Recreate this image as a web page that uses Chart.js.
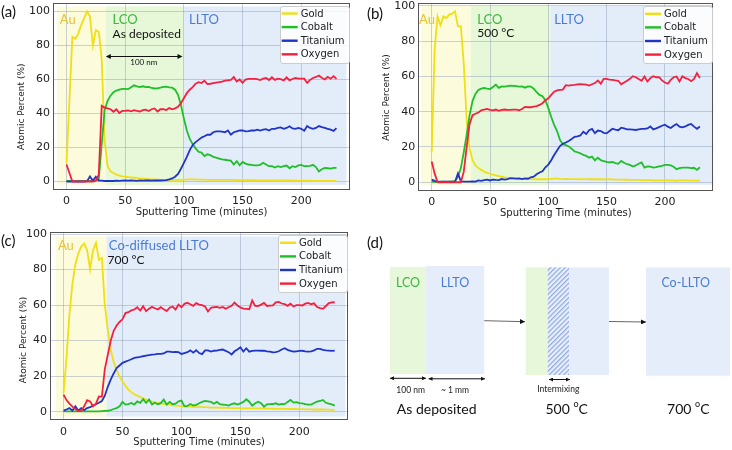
<!DOCTYPE html>
<html><head><meta charset="utf-8">
<script src="https://cdn.jsdelivr.net/npm/chart.js@4.4.1/dist/chart.umd.min.js"></script>
<style>
body{margin:0;background:#fff;}
#wrap{position:relative;width:732px;height:450px;overflow:hidden;background:#fff;}
canvas{position:absolute;}
.pl{position:absolute;font-family:Lato,"DejaVu Sans",sans-serif;font-size:15px;line-height:18px;color:#111;}
</style></head><body>
<div id="wrap">
<canvas id="ca" width="370" height="225" style="left:0;top:0"></canvas>
<canvas id="cb" width="367" height="225" style="left:365px;top:0"></canvas>
<canvas id="cc" width="370" height="225" style="left:0;top:225px"></canvas>
<svg width="732" height="450" style="position:absolute;left:0;top:0" font-family="Lato, 'DejaVu Sans', sans-serif">
<defs>
<pattern id="hatch" patternUnits="userSpaceOnUse" width="3.4" height="3.4" patternTransform="rotate(45)"><rect width="3.4" height="3.4" fill="#e8effb"/><line x1="0.6" y1="0" x2="0.6" y2="3.4" stroke="#86a3e0" stroke-width="1.1"/></pattern>
<marker id="ah" viewBox="0 0 10 10" refX="10" refY="5" markerWidth="5" markerHeight="5" orient="auto-start-reverse"><path d="M0,0 L10,5 L0,10 z" fill="#111"/></marker>
<marker id="ah2" viewBox="0 0 10 10" refX="10" refY="5" markerWidth="4" markerHeight="4" orient="auto-start-reverse"><path d="M0,0 L10,5 L0,10 z" fill="#111"/></marker>
</defs>
<rect x="390" y="267" width="36" height="107" fill="#e6f7da"/>
<rect x="426" y="266" width="58.3" height="108" fill="#e5edfb"/>
<text x="408" y="282.5" text-anchor="middle" dominant-baseline="central" font-size="12.5" fill="#3fb63f">LCO</text>
<text x="455" y="282.5" text-anchor="middle" dominant-baseline="central" font-size="12.5" fill="#4a7bd6">LLTO</text>
<line x1="484.3" y1="320.7" x2="525" y2="321.7" stroke="#666" stroke-width="1" marker-end="url(#ah)"/>
<rect x="525.7" y="267.3" width="22" height="107.7" fill="#e6f7da"/>
<rect x="547.7" y="267.3" width="21.3" height="107.7" fill="url(#hatch)"/>
<rect x="569" y="267.3" width="40" height="107.7" fill="#e5edfb"/>
<line x1="609" y1="321.5" x2="646" y2="322" stroke="#666" stroke-width="1" marker-end="url(#ah)"/>
<rect x="646" y="267.3" width="84" height="108.4" fill="#e5edfb"/>
<text x="685.7" y="282" text-anchor="middle" dominant-baseline="central" font-size="12.5" fill="#4a7bd6">Co-LLTO</text>
<line x1="390" y1="378.3" x2="426" y2="378.3" stroke="#111" stroke-width="1" marker-start="url(#ah2)" marker-end="url(#ah2)"/>
<line x1="428.5" y1="378.8" x2="485" y2="378.8" stroke="#111" stroke-width="1" marker-start="url(#ah2)" marker-end="url(#ah2)"/>
<line x1="549" y1="379.5" x2="570" y2="379.5" stroke="#111" stroke-width="1" marker-start="url(#ah2)" marker-end="url(#ah2)"/>
<text x="410.7" y="390" text-anchor="middle" dominant-baseline="central" font-size="8.5" fill="#222">100 nm</text>
<text x="455" y="390" text-anchor="middle" dominant-baseline="central" font-size="8.5" fill="#222">~ 1 mm</text>
<text x="558.3" y="389.3" text-anchor="middle" dominant-baseline="central" font-size="8.5" fill="#222">Intermixing</text>
<text x="436.7" y="408.3" text-anchor="middle" dominant-baseline="central" font-size="14" fill="#111">As deposited</text>
<text x="566.7" y="408.3" text-anchor="middle" dominant-baseline="central" font-size="14" fill="#111">500 <tspan font-size="9" dy="-5">o</tspan><tspan dy="5">C</tspan></text>
<text x="688.3" y="408.3" text-anchor="middle" dominant-baseline="central" font-size="14" fill="#111">700 <tspan font-size="9" dy="-5">o</tspan><tspan dy="5">C</tspan></text>
</svg>
<div class="pl" style="left:1px;top:2px">(a)</div>
<div class="pl" style="left:367px;top:4px">(b)</div>
<div class="pl" style="left:1px;top:231px">(c)</div>
<div class="pl" style="left:367px;top:233px">(d)</div>
</div>
<script>
// ---------- data ----------
const time = [0,2.5,5,7.5,10,12.5,15,17.5,20,22.5,25,27.5,30,32.5,35,37.5,40,42.5,45,47.5,50,52.5,55,57.5,60,62.5,65,67.5,70,72.5,75,77.5,80,82.5,85,87.5,90,92.5,95,97.5,100,102.5,105,107.5,110,112.5,115,117.5,120,122.5,125,127.5,130,132.5,135,137.5,140,142.5,145,147.5,150,152.5,155,157.5,160,162.5,165,167.5,170,172.5,175,177.5,180,182.5,185,187.5,190,192.5,195,197.5,200,202.5,205,207.5,210,212.5,215,217.5,220,222.5,225,227.5,230];
const seriesNames = ['Gold','Cobalt','Titanium','Oxygen'];
const xTicks = [0,50,100,150,200];
const yTicks = [0,20,40,60,80,100];

// (a) As deposited
const goldA = [11,48,85,84,87,92,96,100,97,80,
 89,88,72,24,9,6,5,4,3.5,3,
 2.8,2.6,2.4,2.2,2,1.8,1.7,1.5,1.4,1.3,
 1.2,1.1,1,1,1,0.9,0.9,0.9,0.9,0.9,
 1,1.2,1.3,1.2,1.2,1.1,1.1,1.1,1,1,
 1,1,1,0.9,0.9,0.9,0.9,0.9,0.8,0.8,
 0.8,0.8,0.8,0.8,0.8,0.7,0.7,0.7,0.7,0.7,
 0.7,0.7,0.6,0.6,0.6,0.6,0.6,0.6,0.5,0.5,
 0.5,0.5,0.5,0.5,0.4,0.4,0.4,0.4,0.4,0.3,
 0.3,0.3,0.3];
const cobaltA = [0.3,0.3,0.2,0.2,0.3,0.3,0.2,0.3,0.3,0.4,
 0.5,1.5,22,42,47.5,50.5,52.5,53.5,54,54.5,
 54.5,54.3,55.5,56.6,56,55.5,56,55.5,55.7,55,
 54.7,54.8,55.2,55.6,55.8,55.4,55.2,54,51,45,
 37,30,25,22,19.5,17.5,17,15,16,15.5,
 14.5,14,13.5,13,12.8,12.5,12.3,10,12,9.5,
 11.5,10.5,10,9.8,9.5,9.5,9.8,11,10,9,
 9,8.2,9,8.5,9,9.4,7.8,9,8.5,9.5,
 9.8,9,9,9.2,9.8,8.5,5.9,7.2,8,7.8,
 7.6,8,8];
const titaniumA = [0,0,0,0,0,0,0,0.2,3,0.5,
 2.8,0.5,0.5,0.3,0.3,0.4,0.3,0.5,0.4,0.5,
 0.6,0.5,0.6,0.5,0.4,0.6,0.5,0.7,0.6,0.5,
 0.6,0.7,0.6,0.7,0.8,1.2,1.8,2.8,4.5,7.5,
 11,14.5,18.5,21.5,23.2,24.5,25.8,26.6,27.5,27.5,
 29,29.5,29.5,29.3,29,30,27.5,29,29.5,30,
 30,29.5,29.6,30,30,30.5,30,30.5,30.8,30,
 31,31,31.5,31.8,31,31.5,32.5,31.2,31,31.5,
 31,29.8,32.6,31.5,31,31.5,32.6,32,31.5,31,
 30.5,29.8,31.4];
const oxygenA = [10,5,0,0,0,0,0,0,0,0,
 0.5,4,44.5,43.5,43,42.5,41,42.5,40.3,41.5,
 41.5,41.8,41.3,42,41.5,41.2,42,42.3,41.5,42.5,
 43,41.2,42.5,42.6,42,43.2,42.5,43,44,46,
 49,52,54,55.5,57.5,58.4,57.9,59.3,57.3,57.5,
 57.9,58.2,58.4,58.8,59.3,59.5,59.7,61.5,58.8,60,
 58,60,60.4,60.4,60.4,60.2,59.7,60.5,60.9,59.7,
 61.3,59.8,60.5,60.2,59.5,61.3,59.5,60.3,60.9,60.5,
 60.5,60.5,58,59.8,60.9,61.5,62.3,61,60,61.6,
 60.5,62,60.4];

// (b) 500 °C
const goldB = [17,75,94,89,94,93,95,95.5,96.8,88.3,
 88.3,67,35,19,12.5,9.5,8,7,6,5.3,
 4.8,4.3,3.9,3.4,3.1,2.8,2.6,2.3,2.2,2.1,
 2,1.9,1.9,1.8,1.8,1.8,1.7,1.7,1.7,1.7,
 1.8,1.9,2,2.2,1.9,1.8,1.9,1.8,1.8,1.8,
 1.8,1.7,1.8,1.8,1.7,1.8,1.7,1.7,1.8,1.7,
 1.6,1.7,1.6,1.5,1.5,1.5,1.4,1.4,1.3,1.3,
 1.3,1.3,1.2,1.2,1.2,1.2,1.1,1.1,1.1,1.1,
 1.1,1.1,1,1,0.8,1,1,1.1,1,0.9,
 0.9,0.9,0.9];
const cobaltB = [0.2,0.2,0.2,0.2,0.3,0.2,0.3,0.3,0.6,3,
 8,17,27,38,46,50,52.3,53,53.4,53,
 52.8,54,55.3,53.5,54.3,54.2,54.5,54.7,54.6,54.5,
 54.2,54.3,53.6,54.3,54.2,53,51,49.5,48.7,46.5,
 42,37,32.5,29,24,21.5,21,20.3,19,17.5,
 17,16.4,15.5,14.9,13.9,14.5,12.4,13.9,12.5,12,
 11.5,11.2,11.5,10.8,10.4,12.1,11,10.2,9.8,8.9,
 9.5,10.5,11.2,8.3,9,8.8,8.3,8.5,9,9.3,
 9.8,9.8,9.5,8.8,7.4,8,8.3,8.3,8.3,8,
 8.2,7,8.5];
const titaniumB = [1.5,0.8,0.3,0.3,0.3,0.3,0.3,0.3,0.3,5,
 0.5,0.3,0.3,0.3,0.5,0.3,1,0.8,1.2,1.5,
 1,1.5,1.3,1.2,1.8,1.5,1.8,2.3,2.2,2,
 2.2,1.8,2.2,2,2.8,3.2,4.5,5.5,6.2,8.5,
 10,12.5,15.4,18,20.5,21.8,22.5,23.4,24.5,25.7,
 26,26.5,28.6,27.3,29.5,30.2,27.8,29.3,29,28,
 27.7,29,30.3,29.8,29.5,30.9,30.5,30,30,29.8,
 29.6,30,30.2,30.2,30.5,31.6,29.9,30.5,31.2,32,
 32.6,31.5,30.7,32,33,31.5,31.1,31.6,32.5,33,
 31.5,30.3,31.6];
const oxygenB = [11.7,5,0,0,0,0,0,0,0,0,
 0,6,20,33,38,38.8,39.5,40.8,41.2,41.6,
 41,40.7,41.2,40.5,41,41.2,41,41,41.2,41.2,
 40.7,41.5,42.7,42.5,42.5,42.8,43.1,43.8,44.8,46.5,
 47.6,49.5,51.3,52,52.3,52.5,55,54.8,55,55.2,
 55.5,55.6,55.5,55.3,54.8,55.5,56.2,57.7,55.8,58.6,
 58.6,58.2,58,57.7,57.5,55.5,56.5,57.5,58.6,60.1,
 59.5,58.5,57.5,59.9,57.1,59,60.1,59.5,59.5,57.7,
 56.5,55.8,58,59.5,59.9,57.1,60,59,58.5,57.3,
 58.5,61.8,59];

// (c) 700 °C
const goldC = [10.5,30,55,72,83,89,93,94.7,91,80,
 91,95,85.5,86.5,60,46,35,28,23.5,19.8,
 17,14.5,12.4,11,9.8,9,8.2,7.5,6.8,6.2,
 5.7,5.3,4.9,4.6,4.3,4.1,3.9,3.6,3.4,3.2,
 3,3,2.9,2.8,2.7,2.6,2.6,2.5,2.5,2.4,
 2.3,2.3,2.3,2.2,2.2,2.1,2.1,2,2,2,
 2,1.9,1.9,1.9,1.8,1.8,1.8,1.8,1.7,1.7,
 1.7,1.7,1.6,1.6,1.6,1.6,1.5,1.5,1.5,1.4,
 1.4,1.4,1.3,1.3,1.3,1.2,1.2,1.2,1.2,1.1,
 1.1,1,1];
const cobaltC = [0.2,0.2,0.2,0.2,0.2,0.2,0.2,0.2,0.2,0.2,
 0.2,0.2,0.2,0.3,0.4,0.5,0.8,1.5,2,3,
 5.5,4,4.3,4.9,4,5.8,5,7,5,6.8,
 4,5,4.2,4.8,6.8,4,5.5,4.2,4.5,5.8,
 6.2,3,3.2,4.3,3.5,3.8,4.7,5.5,6,5.8,
 5.5,4.5,5.5,4.2,4,3.8,3.4,4.2,4.7,4,
 4.7,5.5,7,5.6,3.4,4.7,5.6,4.8,2.8,4.1,
 4.2,4.3,4.7,4,4.3,4.2,5.5,6.6,5.1,5.4,
 4.8,4.7,4.3,4,4,4.9,5.6,6,6.6,5,
 4.5,4.1,3.4];
const titaniumC = [0.6,1.2,2,0.6,3,0.6,2,0.8,2,2.5,
 3.4,4.2,5,6,9,14,18,21.5,24.5,26,
 27.5,28.2,28.8,29.5,30.3,30.6,30.8,31.2,31.5,31.8,
 32.1,32.2,32.5,32.5,32.8,33.8,33.8,33.5,33.6,33.5,
 32.5,33,33.5,34.5,33.2,34.6,33,32.4,34.5,34.5,
 33.8,34.3,34.4,34.8,35,34.2,33.5,32.2,34,35,
 36.3,33.8,35.7,33.8,34.2,34.4,34.4,34.3,34.4,34,
 33.8,33.4,33.5,34,35,35.7,34.8,34.2,33.8,34,
 34.2,34.3,34,33.8,34,34.5,35.4,35.3,34.8,34.5,
 34.4,34.2,34.4];
const oxygenC = [9.5,6.5,4.5,2.8,1.5,0.3,0.4,3,6.5,5.8,
 3,4.5,8.6,8.5,24,32,40,45.5,48.5,50.5,
 52,55.5,56,57,57.5,58.8,56.9,59.4,56.6,58,
 59,58.2,57.5,58.8,57.6,56.6,58.5,59.2,57.5,60.3,
 58.8,60.7,61.3,60.5,59.6,61.1,60.3,60,59.2,56.4,
 58.5,58.8,59,58.5,58.9,57.9,58.8,59.6,61.4,59.8,
 58.7,58,57.9,57.7,62.6,59.6,59.5,60.3,61.2,59.5,
 59.7,59.8,61.5,61.8,60.9,60.5,59.6,60.8,59.2,60,
 60,59.8,60.8,61.2,60.5,61,58.9,58.3,57.9,59.5,
 61.1,61.5,61.6];

// ---------- styling ----------
const COLORS = ['#f0df14','#1fbf28','#2134c8','#f5203f'];
const DJ = '"DejaVu Sans", sans-serif';
const LATO = 'Lato, "DejaVu Sans", sans-serif';
const GRID = 'rgba(120,140,170,0.38)';
const SHADE_Y = '#fcfbdc', SHADE_G = '#e6f8d8', SHADE_B = '#e3edfa';
const AU = '#e8c23a', LCOC = '#3cb83c', LLTOC = '#4a7bd6';

function shadePlugin(rects){
  return {id:'shade', beforeDraw(chart){
    const {ctx, scales:{x,y}} = chart; ctx.save();
    for(const r of rects){
      const x0=x.getPixelForValue(r.x0), x1=x.getPixelForValue(r.x1);
      const y0=y.getPixelForValue(r.y1), y1=y.getPixelForValue(r.y0);
      ctx.fillStyle=r.color; ctx.fillRect(x0,y0,x1-x0,y1-y0);
    }
    ctx.restore();
  }};
}
const framePlugin = {id:'frame', afterDatasetsDraw(chart){
  const {ctx, chartArea:a} = chart; ctx.save(); ctx.strokeStyle='#555'; ctx.lineWidth=1;
  ctx.strokeRect(Math.round(a.left)+0.5, Math.round(a.top)+0.5, Math.round(a.right)-Math.round(a.left)-1, Math.round(a.bottom)-Math.round(a.top)-1);
  ctx.restore();
}};
function notesPlugin(items){
  return {id:'notes', afterDatasetsDraw(chart){
    const {ctx, scales:{x,y}} = chart; ctx.save();
    for(const it of items){
      if(it.arrow){
        const x0=x.getPixelForValue(it.x0), x1=x.getPixelForValue(it.x1), py=Math.round(y.getPixelForValue(it.y))+0.5;
        ctx.strokeStyle='#111'; ctx.fillStyle='#111'; ctx.lineWidth=1;
        ctx.beginPath(); ctx.moveTo(x0+4,py); ctx.lineTo(x1-4,py); ctx.stroke();
        ctx.beginPath(); ctx.moveTo(x0,py); ctx.lineTo(x0+5,py-2.5); ctx.lineTo(x0+5,py+2.5); ctx.closePath(); ctx.fill();
        ctx.beginPath(); ctx.moveTo(x1,py); ctx.lineTo(x1-5,py-2.5); ctx.lineTo(x1-5,py+2.5); ctx.closePath(); ctx.fill();
        continue;
      }
      ctx.font = `${it.size}px ${LATO}`; ctx.fillStyle=it.color;
      ctx.textAlign = it.align || 'left'; ctx.textBaseline='middle';
      ctx.fillText(it.text, x.getPixelForValue(it.x), y.getPixelForValue(it.y));
    }
    ctx.restore();
  }};
}
function legendPlugin(){
  return {id:'boxLegend', afterDraw(chart){
    const {ctx, chartArea:a} = chart; const ds = chart.data.datasets;
    ctx.save(); ctx.font = `10px ${DJ}`;
    const tw = Math.max(...ds.map(d=>ctx.measureText(d.label).width));
    const w = 21 + tw + 4, h = 57;
    const left = a.right - 1.5 - w, top = a.top + 2.5;
    ctx.fillStyle='rgba(255,255,255,0.8)'; ctx.strokeStyle='#cccccc'; ctx.lineWidth=1;
    ctx.beginPath(); ctx.roundRect(Math.round(left)+0.5, Math.round(top)+0.5, Math.round(w), h, 2.5); ctx.fill(); ctx.stroke();
    ds.forEach((d,i)=>{
      const cy = top + 8 + i*13.6;
      ctx.strokeStyle=d.borderColor; ctx.lineWidth=2.4;
      ctx.beginPath(); ctx.moveTo(left+2,cy); ctx.lineTo(left+18,cy); ctx.stroke();
      ctx.fillStyle='#222'; ctx.textAlign='left'; ctx.textBaseline='middle';
      ctx.fillText(d.label, left+21, cy+0.5);
    });
    ctx.restore();
  }};
}
function yTitlePlugin(pos){
  return {id:'ytitle', afterDraw(chart){
    const {ctx} = chart; ctx.save();
    ctx.translate(pos.x, pos.y); ctx.rotate(-Math.PI/2);
    ctx.font = `9px ${DJ}`; ctx.fillStyle='#222'; ctx.textAlign='center'; ctx.textBaseline='middle';
    ctx.fillText('Atomic Percent (%)', 0, 0); ctx.restore();
  }};
}

function makePanel(id, p){
  const H = 225, A = p.area;
  const sets = [p.gold, p.cobalt, p.titanium, p.oxygen];
  return new Chart(document.getElementById(id), {
    type:'line',
    data:{datasets: sets.map((vals,k)=>({
      label: seriesNames[k], data: time.map((t,i)=>({x:t, y:vals[i]})),
      borderColor: COLORS[k], backgroundColor: COLORS[k], borderWidth:1.8,
      pointRadius:0, tension:0, fill:false, order:4-k }))},
    options:{
      responsive:false, animation:false, devicePixelRatio:1,
      layout:{padding:{left:0, top:A.top, right:p.w - A.right, bottom:0}},
      plugins:{legend:{display:false}, tooltip:{enabled:false}},
      scales:{
        x:{type:'linear', min:-11.5, max:241.5,
          afterBuildTicks: s => { s.ticks = xTicks.map(v=>({value:v})); },
          ticks:{font:{family:DJ, size:11}, color:'#222', padding:p.xtickPad, maxRotation:0, autoSkip:false},
          grid:{color:GRID, drawTicks:false, lineWidth:1}, border:{display:false},
          title:{display:true, text:'Sputtering Time (minutes)', font:{family:DJ, size:10}, color:'#222', padding:{top:0,bottom:p.xtitlePad}},
          afterFit: s => { s.height = H - A.bottom; s.paddingLeft=0; s.paddingRight=0; s.paddingTop=0; s.paddingBottom=0; }
        },
        y:{min:p.ymin, max:p.ymax,
          afterBuildTicks: s => { s.ticks = yTicks.map(v=>({value:v})); },
          ticks:{font:{family:DJ, size:11}, color:'#222', padding:3},
          grid:{color:GRID, drawTicks:false, lineWidth:1}, border:{display:false},
          afterFit: s => { s.width = A.left; s.paddingLeft=0; s.paddingRight=0; s.paddingTop=0; s.paddingBottom=0; }
        }
      }
    },
    plugins:[shadePlugin(p.shade), framePlugin, notesPlugin(p.notes), legendPlugin(), yTitlePlugin(p.ytitle)]
  });
}

makePanel('ca', {
  w:370, area:{left:53, top:3, right:350, bottom:190}, ymin:-5, ymax:105, xtickPad:5, xtitlePad:7,
  ytitle:{x:21.7, y:106.7},
  gold:goldA, cobalt:cobaltA, titanium:titaniumA, oxygen:oxygenA,
  shade:[{x0:-8,x1:33.5,y0:-2,y1:103,color:SHADE_Y},{x0:33.5,x1:99.5,y0:-2,y1:103,color:SHADE_G},{x0:99.5,x1:238.5,y0:-2,y1:103,color:SHADE_B}],
  notes:[
    {text:'Au', x:-5.7, y:95, color:AU, size:13},
    {text:'LCO', x:39.2, y:95, color:LCOC, size:13},
    {text:'As deposited', x:39.2, y:86.6, color:'#111', size:12},
    {text:'LLTO', x:104.4, y:95, color:LLTOC, size:13},
    {arrow:true, x0:33.5, x1:98.8, y:74},
    {text:'100 nm', x:65.8, y:70, color:'#111', size:8, align:'center'}
  ]
});
makePanel('cb', {
  w:367, area:{left:53.3, top:3.3, right:348.3, bottom:190.7}, ymin:-4.8, ymax:101.4, xtickPad:5, xtitlePad:5.5,
  ytitle:{x:21.7, y:97.5},
  gold:goldB, cobalt:cobaltB, titanium:titaniumB, oxygen:oxygenB,
  shade:[{x0:-9,x1:33.5,y0:-1.5,y1:100,color:SHADE_Y},{x0:33.5,x1:102,y0:-1.5,y1:100,color:SHADE_G},{x0:102,x1:241.5,y0:-1.5,y1:100,color:SHADE_B}],
  notes:[
    {text:'Au', x:-10.9, y:92, color:AU, size:13},
    {text:'LCO', x:39.1, y:92, color:LCOC, size:13},
    {text:'500 °C', x:39.1, y:84.5, color:'#111', size:12},
    {text:'LLTO', x:105, y:92, color:LLTOC, size:13}
  ]
});
makePanel('cc', {
  w:370, area:{left:50, top:7.3, right:348.3, bottom:195}, ymin:-4.7, ymax:101, xtickPad:6, xtitlePad:1.5,
  ytitle:{x:24, y:115},
  gold:goldC, cobalt:cobaltC, titanium:titaniumC, oxygen:oxygenC,
  shade:[{x0:-6.5,x1:36.5,y0:-2.8,y1:98.6,color:SHADE_Y},{x0:36.5,x1:239,y0:-2.8,y1:98.6,color:SHADE_B}],
  notes:[
    {text:'Au', x:-4.8, y:93.6, color:AU, size:13},
    {text:'Co-diffused LLTO', x:38.4, y:93.6, color:LLTOC, size:13},
    {text:'700 °C', x:37.3, y:85.5, color:'#111', size:12}
  ]
});
</script>
</body></html>
